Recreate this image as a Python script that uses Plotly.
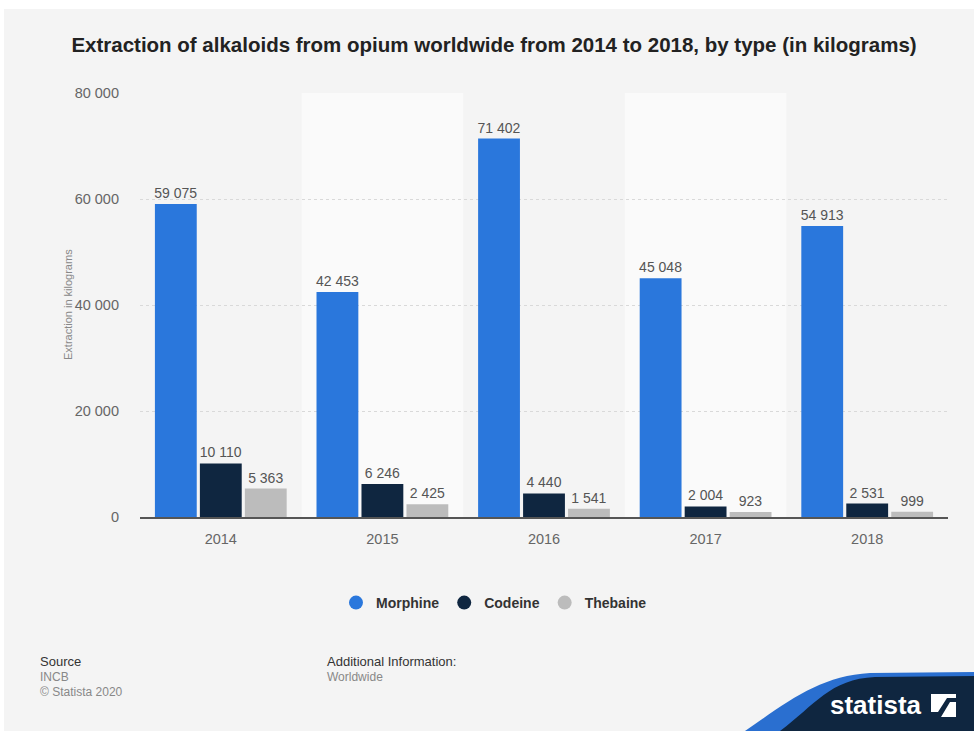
import plotly.graph_objects as go

years = ["2014", "2015", "2016", "2017", "2018"]
morphine = [59075, 42453, 71402, 45048, 54913]
codeine = [10110, 6246, 4440, 2004, 2531]
thebaine = [5363, 2425, 1541, 923, 999]
series_names = ["Morphine", "Codeine", "Thebaine"]
series_colors = ["#2a77dc", "#0f2640", "#bcbcbc"]
y_ticks = [0, 20000, 40000, 60000, 80000]

W, H = 974, 731
L, R, T, B = 140, 26, 93, 214
PW, PH = W - L - R, H - T - B


def px(x):
    return (x - L) / PW


def py(y):
    return (H - B - y) / PH


fig = go.Figure()
for name, vals, col in zip(series_names, [morphine, codeine, thebaine], series_colors):
    fig.add_trace(go.Bar(
        x=years, y=vals, name=name, marker=dict(color=col, line=dict(width=0)),
        texttemplate="%{y:,}", textposition="outside", cliponaxis=False, constraintext="none",
        textfont=dict(family="Liberation Sans, Arial", size=14, color="#555555"),
        showlegend=False,
    ))
    fig.add_trace(go.Scatter(
        x=[None], y=[None], mode="markers", name=name,
        marker=dict(symbol="circle", size=14, color=col), showlegend=True,
    ))

shapes = []
# page background with thin white border
shapes.append(dict(type="rect", xref="paper", yref="paper", x0=px(4), x1=px(W), y0=py(9), y1=py(H),
                   fillcolor="#f4f4f4", line=dict(width=0), layer="below"))
# alternating bands
for i in (1, 3):
    shapes.append(dict(type="rect", xref="x", yref="paper", x0=i - 0.5, x1=i + 0.5, y0=0, y1=1,
                       fillcolor="#fafafa", line=dict(width=0), layer="below"))


def path(points):
    s = "M {} {}".format(px(points[0][0]), py(points[0][1]))
    for p in points[1:]:
        if len(p) == 6:
            s += " C {} {} {} {} {} {}".format(px(p[0]), py(p[1]), px(p[2]), py(p[3]), px(p[4]), py(p[5]))
        else:
            s += " L {} {}".format(px(p[0]), py(p[1]))
    return s + " Z"


shapes.append(dict(type="path", xref="paper", yref="paper",
                   path=path([(745, 731), (790, 700, 820, 676, 870, 673), (974, 672), (974, 731)]),
                   fillcolor="#2a6fd0", line=dict(width=0), layer="above"))
shapes.append(dict(type="path", xref="paper", yref="paper",
                   path=path([(780, 731), (815, 705, 830, 679, 875, 677), (974, 676), (974, 731)]),
                   fillcolor="#0f2640", line=dict(width=0), layer="above"))
# logo icon
shapes.append(dict(type="rect", xref="paper", yref="paper", x0=px(931), x1=px(956), y0=py(717), y1=py(694),
                   fillcolor="white", line=dict(width=0), layer="above"))
shapes.append(dict(type="path", xref="paper", yref="paper",
                   path=path([(931, 712), (938, 712), (947, 698), (956, 698), (956, 702), (950, 702), (941, 717), (931, 717)]),
                   fillcolor="#0f2640", line=dict(width=0), layer="above"))

annotations = [
    dict(text="Extraction in kilograms", xref="paper", yref="paper", x=px(60), y=py(305),
         textangle=-90, showarrow=False, font=dict(family="Liberation Sans, Arial", size=11, color="#888888")),
    dict(text="Source", xref="paper", yref="paper", x=px(38), y=py(661), xanchor="left", yanchor="middle",
         showarrow=False, font=dict(family="Liberation Sans, Arial", size=13, color="#333333")),
    dict(text="INCB", xref="paper", yref="paper", x=px(38), y=py(677), xanchor="left", yanchor="middle",
         showarrow=False, font=dict(family="Liberation Sans, Arial", size=12, color="#888888")),
    dict(text="© Statista 2020", xref="paper", yref="paper", x=px(38), y=py(692), xanchor="left", yanchor="middle",
         showarrow=False, font=dict(family="Liberation Sans, Arial", size=12, color="#888888")),
    dict(text="Additional Information:", xref="paper", yref="paper", x=px(325), y=py(661), xanchor="left",
         yanchor="middle", showarrow=False, font=dict(family="Liberation Sans, Arial", size=13, color="#333333")),
    dict(text="Worldwide", xref="paper", yref="paper", x=px(325), y=py(677), xanchor="left", yanchor="middle",
         showarrow=False, font=dict(family="Liberation Sans, Arial", size=12, color="#888888")),
    dict(text="<b>statista</b>", xref="paper", yref="paper", x=px(924), y=py(705), xanchor="right",
         yanchor="middle", showarrow=False, font=dict(family="Liberation Sans Narrow, Liberation Sans, Arial", size=26, color="white")),
]

fig.update_layout(
    width=W, height=H,
    margin=dict(l=L, r=R, t=T, b=B, autoexpand=False),
    paper_bgcolor="white", plot_bgcolor="rgba(0,0,0,0)",
    separators=". ",
    barmode="group", bargap=0.165, bargroupgap=0.07,
    title=dict(text="<b>Extraction of alkaloids from opium worldwide from 2014 to 2018, by type (in kilograms)</b>",
               x=494 / W, xanchor="center", y=1 - 45 / H, yanchor="middle",
               font=dict(family="Liberation Sans Narrow, Liberation Sans, Arial", size=20.5, color="#222222")),
    font=dict(family="Liberation Sans, Arial"),
    legend=dict(orientation="h", x=px(494), xanchor="center", y=py(603), yanchor="middle",
                font=dict(family="Liberation Sans, Arial", size=14, color="#333333", weight="bold"),
                bgcolor="rgba(0,0,0,0)", itemwidth=30, tracegroupgap=0),
    shapes=shapes, annotations=annotations,
    xaxis=dict(type="category", showgrid=False, showline=True, linecolor="#555555", linewidth=2,
               ticks="", tickfont=dict(size=14.5, color="#666666"), ticklabelstandoff=8, range=[-0.5, 4.5]),
    yaxis=dict(range=[0, 80000], tickvals=y_ticks, tickformat=",", showgrid=True, gridcolor="#d9d9d9",
               griddash="dot", gridwidth=1, zeroline=False, showline=False, ticks="",
               tickfont=dict(size=14.5, color="#666666"), ticklabelstandoff=20),
)

fig.write_html("out.html")
